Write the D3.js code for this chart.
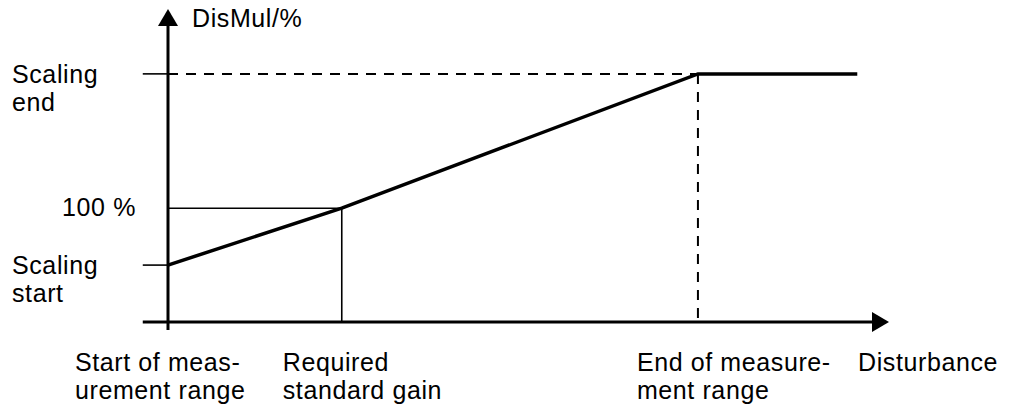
<!DOCTYPE html>
<html><head><meta charset="utf-8">
<script src="https://cdn.jsdelivr.net/npm/d3@7"></script>
<style>html,body{margin:0;padding:0;background:#fff;}svg{display:block;}text{font-family:"Liberation Sans",Arial,sans-serif;font-size:25px;letter-spacing:0.6px;fill:#000;}</style>
</head><body>
<svg id="c" width="1014" height="410"></svg>
<script>
// Data (abstract units)
const xPoints = {start: 0, required: 24.1, end: 73.5, plateauEnd: 95.6};
const yLevels = {scalingStart: 50, hundred: 100, scalingEnd: 218};
const curveX = [0, 24.1, 73.5, 95.6];
const curveY = [50, 100, 218, 218];
const yLabels = [
  {lines: ["Scaling", "end"], value: 218},
  {lines: ["100 %"], value: 100},
  {lines: ["Scaling", "start"], value: 50}
];
const xLabels = [
  {lines: ["Start of meas-", "urement range"], value: 0},
  {lines: ["Required", "standard gain"], value: 24.1},
  {lines: ["End of measure-", "ment range"], value: 73.5},
  {lines: ["Disturbance"], value: 95.6}
];
const yAxisTitle = "DisMul/%";

const svg = d3.select("#c");
const x = d3.scaleLinear().domain([0, 100]).range([168, 889]);
const y = d3.scaleLinear().domain([0, 275]).range([322, 9]);
const g = svg.append("g");

// guide lines
g.append("line").attr("x1", x(-3.5)).attr("x2", x(0)).attr("y1", y(yLevels.scalingEnd)).attr("y2", y(yLevels.scalingEnd))
  .attr("stroke", "#000").attr("stroke-width", 1.6);
g.append("line").attr("x1", x(0)).attr("x2", x(xPoints.end)).attr("y1", y(yLevels.scalingEnd)).attr("y2", y(yLevels.scalingEnd))
  .attr("stroke", "#000").attr("stroke-width", 2).attr("stroke-dasharray", "10,8");
g.append("line").attr("x1", x(xPoints.end)).attr("x2", x(xPoints.end)).attr("y1", y(yLevels.scalingEnd)).attr("y2", y(0))
  .attr("stroke", "#000").attr("stroke-width", 2).attr("stroke-dasharray", "10,8");
g.append("line").attr("x1", x(0)).attr("x2", x(xPoints.required)).attr("y1", y(yLevels.hundred)).attr("y2", y(yLevels.hundred))
  .attr("stroke", "#000").attr("stroke-width", 1.6);
g.append("line").attr("x1", x(xPoints.required)).attr("x2", x(xPoints.required)).attr("y1", y(yLevels.hundred)).attr("y2", y(0))
  .attr("stroke", "#000").attr("stroke-width", 1.6);
g.append("line").attr("x1", x(-3.5)).attr("x2", x(0)).attr("y1", y(yLevels.scalingStart)).attr("y2", y(yLevels.scalingStart))
  .attr("stroke", "#000").attr("stroke-width", 1.6);

// axes
g.append("line").attr("x1", x(-3.5)).attr("x2", x(98)).attr("y1", y(0)).attr("y2", y(0))
  .attr("stroke", "#000").attr("stroke-width", 3);
g.append("path").attr("d", `M${x(100)},${y(0)} L${x(100)-17},${y(0)-10} L${x(100)-17},${y(0)+10} Z`).attr("fill", "#000");
g.append("line").attr("x1", x(0)).attr("x2", x(0)).attr("y1", y(-7)).attr("y2", y(262))
  .attr("stroke", "#000").attr("stroke-width", 3);
g.append("path").attr("d", `M${x(0)},${y(275)} L${x(0)-10},${y(275)+17} L${x(0)+10},${y(275)+17} Z`).attr("fill", "#000");

// curve
const line = d3.line().x(d => x(d[0])).y(d => y(d[1]));
g.append("path").datum(d3.zip(curveX, curveY)).attr("d", line)
  .attr("fill", "none").attr("stroke", "#000").attr("stroke-width", 3.5).attr("stroke-linejoin", "miter");

// text
svg.append("text").attr("x", x(0) + 24).attr("y", 27).text(yAxisTitle);
yLabels.forEach(l => {
  const t = svg.append("text");
  if (l.lines.length === 1) {
    t.attr("x", 136).attr("y", y(l.value) + 8).attr("text-anchor", "end").text(l.lines[0]);
  } else {
    l.lines.forEach((s, i) => t.append("tspan").attr("x", 12).attr("y", y(l.value) + 9 + i * 28).text(s));
  }
});
const xOffsets = [-93, -59, -61, 0];
xLabels.forEach((l, k) => {
  const t = svg.append("text");
  const baseX = k === 3 ? 858 : x(l.value) + xOffsets[k];
  l.lines.forEach((s, i) => t.append("tspan").attr("x", baseX).attr("y", 371 + i * 28).text(s));
});
</script>
</body></html>
